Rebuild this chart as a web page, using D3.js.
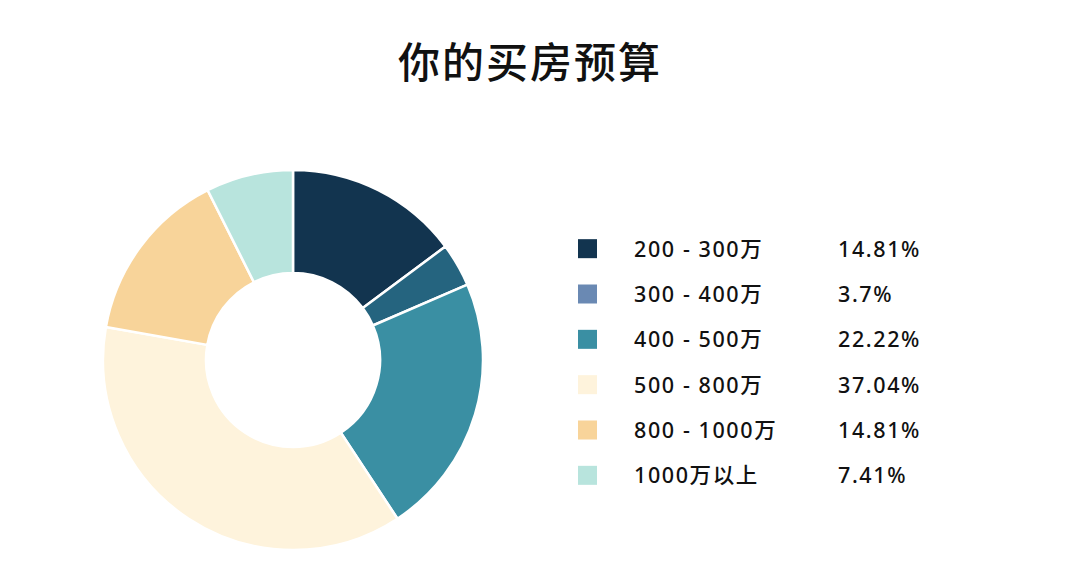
<!DOCTYPE html>
<html><head><meta charset="utf-8">
<script src="https://cdn.jsdelivr.net/npm/d3@7"></script>
<style>body{margin:0;background:#fff;} svg{display:block;}</style>
</head><body>
<svg id="c" width="1080" height="562"></svg>
<script>
const categories = ["200 - 300万","300 - 400万","400 - 500万","500 - 800万","800 - 1000万","1000万以上"];
const values = [14.81, 3.7, 22.22, 37.04, 14.81, 7.41];
const labels = ["14.81%","3.7%","22.22%","37.04%","14.81%","7.41%"];
const sliceColors = ["#12344f","#25647f","#3a8fa3","#fef3dc","#f8d49a","#b8e4dd"];
const legendColors = ["#12344f","#6a89b3","#3a8fa3","#fef3dc","#f8d49a","#b8e4dd"];

const svg = d3.select("#c");
const font = "'Noto Sans', 'Noto Sans CJK SC', sans-serif";
const cjk = "'Noto Sans CJK SC', sans-serif";

svg.append("text").attr("x",530).attr("y",78).attr("text-anchor","middle")
  .attr("font-family",cjk).attr("font-size",42).attr("font-weight",500)
  .attr("letter-spacing",2).attr("fill","#111").text("你的买房预算");

const cx = 293, cy = 360, rOuter = 190, rInner = 87;
const pie = d3.pie().sort(null).value(d=>d);
const arc = d3.arc().innerRadius(rInner).outerRadius(rOuter);
const g = svg.append("g").attr("transform",`translate(${cx},${cy})`);
g.selectAll("path").data(pie(values)).join("path")
  .attr("d",arc).attr("fill",(d,i)=>sliceColors[i])
  .attr("stroke","#fff").attr("stroke-width",2.5);

const y = d3.scaleBand().domain(categories).range([226,498]);
const lg = svg.append("g");
const rows = lg.selectAll("g").data(categories).join("g")
  .attr("transform",d=>`translate(0,${y(d)+y.bandwidth()/2})`);
rows.append("rect").attr("x",578).attr("y",-9.5).attr("width",19).attr("height",19)
  .attr("fill",(d,i)=>legendColors[i]);
rows.append("text").attr("x",634).attr("y",8).attr("font-family",font).attr("font-size",21.5)
  .attr("font-weight",500).attr("letter-spacing",1.6).attr("fill","#111").text(d=>d);
rows.append("text").attr("x",838).attr("y",8).attr("font-family",font).attr("font-size",21.5)
  .attr("font-weight",500).attr("letter-spacing",1.6).attr("fill","#111").text((d,i)=>labels[i]);
</script>
</body></html>
